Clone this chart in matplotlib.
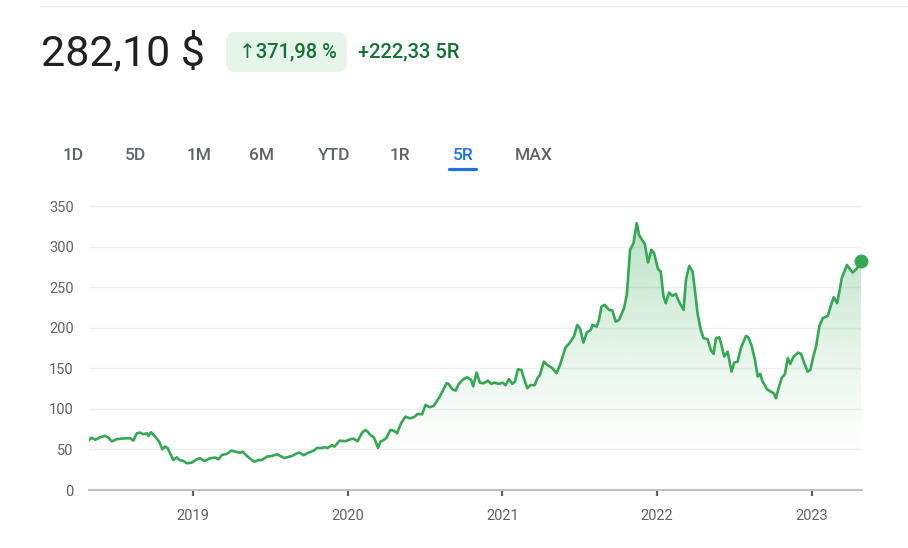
import numpy as np
import matplotlib
matplotlib.use('Agg')
import matplotlib.pyplot as plt
from matplotlib.patches import FancyBboxPatch

plt.rcParams['font.family'] = ['Roboto', 'DejaVu Sans']

# price history, x in decimal years, y in $
years = [
    2018.329, 2018.346, 2018.368, 2018.400, 2018.432, 2018.452, 2018.476, 2018.508,
    2018.540, 2018.594, 2018.616, 2018.638, 2018.659, 2018.680, 2018.702, 2018.713,
    2018.730, 2018.756, 2018.782, 2018.803, 2018.821, 2018.838, 2018.853, 2018.874,
    2018.896, 2018.913, 2018.939, 2018.961, 2018.994, 2019.026, 2019.047, 2019.075,
    2019.112, 2019.144, 2019.166, 2019.188, 2019.220, 2019.248, 2019.274, 2019.306,
    2019.321, 2019.350, 2019.382, 2019.399, 2019.425, 2019.447, 2019.479, 2019.511,
    2019.544, 2019.565, 2019.593, 2019.608, 2019.641, 2019.673, 2019.690, 2019.716,
    2019.748, 2019.781, 2019.803, 2019.835, 2019.856, 2019.871, 2019.900, 2019.915,
    2019.949, 2019.986, 2020.018, 2020.039, 2020.065, 2020.094, 2020.115, 2020.130,
    2020.148, 2020.169, 2020.182, 2020.197, 2020.212, 2020.234, 2020.251, 2020.277,
    2020.298, 2020.320, 2020.346, 2020.374, 2020.402, 2020.428, 2020.454, 2020.482,
    2020.504, 2020.531, 2020.557, 2020.596, 2020.618, 2020.640, 2020.654, 2020.676,
    2020.698, 2020.719, 2020.748, 2020.773, 2020.799, 2020.812, 2020.834, 2020.855,
    2020.881, 2020.907, 2020.929, 2020.950, 2020.978, 2021.004, 2021.021, 2021.043,
    2021.065, 2021.082, 2021.101, 2021.123, 2021.140, 2021.162, 2021.183, 2021.209,
    2021.227, 2021.243, 2021.269, 2021.291, 2021.324, 2021.351, 2021.373, 2021.410,
    2021.431, 2021.463, 2021.485, 2021.502, 2021.524, 2021.546, 2021.572, 2021.583,
    2021.610, 2021.625, 2021.641, 2021.662, 2021.690, 2021.712, 2021.733, 2021.755,
    2021.787, 2021.805, 2021.826, 2021.848, 2021.869, 2021.884, 2021.906, 2021.921,
    2021.942, 2021.964, 2021.981, 2022.007, 2022.024, 2022.042, 2022.057, 2022.078,
    2022.100, 2022.122, 2022.137, 2022.154, 2022.172, 2022.187, 2022.208, 2022.230,
    2022.245, 2022.262, 2022.283, 2022.301, 2022.327, 2022.348, 2022.366, 2022.381,
    2022.402, 2022.417, 2022.434, 2022.456, 2022.467, 2022.482, 2022.499, 2022.521,
    2022.542, 2022.575, 2022.590, 2022.612, 2022.633, 2022.651, 2022.667, 2022.683,
    2022.711, 2022.736, 2022.754, 2022.769, 2022.790, 2022.806, 2022.827, 2022.845,
    2022.861, 2022.883, 2022.913, 2022.931, 2022.952, 2022.974, 2022.991, 2023.013,
    2023.028, 2023.050, 2023.071, 2023.104, 2023.125, 2023.142, 2023.164, 2023.179,
    2023.194, 2023.211, 2023.228, 2023.250, 2023.265, 2023.293, 2023.319,
]
prices = [
    61.8, 64.7, 62.0, 65.0, 66.8, 65.0, 60.0, 62.7,
    63.5, 64.0, 61.0, 70.0, 70.9, 68.8, 70.0, 66.8,
    71.3, 66.0, 59.8, 50.3, 53.6, 51.5, 45.3, 37.0,
    40.4, 37.0, 35.8, 33.0, 33.8, 38.0, 39.2, 35.8,
    39.2, 40.0, 38.0, 43.3, 44.5, 48.6, 47.4, 46.0,
    47.4, 42.0, 37.0, 35.0, 37.0, 37.0, 41.2, 42.0,
    44.1, 42.0, 39.5, 40.4, 42.0, 45.3, 46.1, 42.9,
    46.1, 48.5, 51.9, 51.9, 52.7, 51.9, 55.2, 53.5,
    60.9, 60.2, 62.6, 63.4, 60.2, 70.8, 74.1, 72.0,
    67.9, 65.1, 59.7, 51.9, 59.7, 61.8, 64.2, 74.1,
    73.3, 70.0, 82.4, 90.5, 88.6, 89.8, 93.9, 93.5,
    105.0, 102.2, 103.8, 115.3, 123.5, 131.8, 130.9, 124.4,
    122.7, 130.9, 136.8, 139.2, 135.9, 128.0, 145.0, 132.5,
    131.8, 135.0, 131.0, 132.5, 131.0, 132.5, 129.3, 136.7,
    131.0, 133.8, 149.0, 148.2, 138.0, 125.6, 129.7, 129.3,
    138.0, 142.0, 158.5, 154.4, 150.3, 144.2, 154.4, 176.3,
    180.4, 189.4, 203.8, 199.7, 182.0, 194.3, 197.7, 203.8,
    201.7, 210.0, 226.4, 228.5, 222.4, 221.5, 207.9, 210.0,
    224.5, 240.9, 296.5, 304.7, 329.5, 315.0, 308.0, 303.9,
    280.8, 296.5, 292.4, 272.6, 269.7, 238.8, 230.6, 243.7,
    239.7, 242.1, 234.7, 228.5, 222.4, 259.4, 276.7, 269.7,
    247.0, 218.3, 197.7, 187.4, 186.2, 172.9, 168.0, 187.4,
    188.6, 179.1, 164.7, 170.8, 160.6, 146.1, 157.3, 158.5,
    175.0, 190.2, 188.6, 177.9, 160.6, 140.0, 143.3, 133.8,
    124.4, 121.4, 119.5, 113.3, 128.5, 138.0, 143.3, 162.7,
    155.7, 164.7, 169.6, 168.0, 156.5, 146.1, 148.2, 166.8,
    177.0, 202.6, 212.1, 215.0, 228.5, 238.0, 230.6, 245.0,
    261.5, 269.7, 277.9, 271.8, 268.4, 273.9, 282.1,
]

y_ticks = [0, 50, 100, 150, 200, 250, 300, 350]
x_ticks = [2019, 2020, 2021, 2022, 2023]
tabs = ['1D', '5D', '1M', '6M', 'YTD', '1R', '5R', 'MAX']
tab_x = [73, 135, 199, 262, 334, 400, 463, 534]

GREEN = '#34a853'
TEXT_GREEN = '#137333'
GREY = '#5f6368'
BLUE = '#1a73e8'

W, H = 908, 548
fig = plt.figure(figsize=(W / 100, H / 100), dpi=100)

# background axes in pixel coordinates for the header
bg = fig.add_axes([0, 0, 1, 1])
bg.set_xlim(0, W)
bg.set_ylim(H, 0)
bg.axis('off')

bg.plot([40, W], [6, 6], color='#e8eaed', lw=1)
bg.text(41, 53, '282,10 $', fontsize=31, color='#202124', va='center', ha='left')
bg.add_patch(FancyBboxPatch((226, 32), 121, 40, boxstyle='round,pad=0,rounding_size=9',
                            fc='#e6f4ea', ec='none'))
bg.text(239, 52, '\u2191371,98 %', fontsize=14.5, color=TEXT_GREEN, va='center',
        ha='left', fontweight='medium')
bg.text(358, 52, '+222,33 5R', fontsize=14.5, color=TEXT_GREEN, va='center',
        ha='left', fontweight='medium')

for lab, tx in zip(tabs, tab_x):
    col = BLUE if lab == '5R' else GREY
    bg.text(tx, 155, lab, fontsize=12.5, color=col, va='center', ha='center',
            fontweight='medium')
bg.plot([449, 476], [168.5, 168.5], color=BLUE, lw=2.3, solid_capstyle='round')

# chart
ax = fig.add_axes([89 / W, (H - 490) / H, (862 - 89) / W, 290 / H])
ax.set_facecolor('none')
ax.set_xlim(years[0], 2023.325)
ax.set_ylim(0, 358)

for s in ['top', 'right', 'left']:
    ax.spines[s].set_visible(False)
ax.spines['bottom'].set_color('#bdc1c6')
ax.spines['bottom'].set_linewidth(1.4)

ax.set_yticks(y_ticks)
ax.set_xticks(x_ticks)
ax.set_xticklabels([str(t) for t in x_ticks])
ax.tick_params(axis='y', length=0, pad=11, labelsize=10.5, labelcolor=GREY)
ax.tick_params(axis='x', length=4, width=1.6, color='#5f6368', pad=10,
               labelsize=10.5, labelcolor=GREY)
ax.grid(axis='y', color='#efefef', lw=1)
ax.set_axisbelow(True)

# gradient fill under the line
poly = ax.fill_between(years, prices, 0, color='none', lw=0)
vals = np.linspace(0, max(prices), 300)
alpha = 0.34 * np.clip((vals - 35) / (max(prices) - 35), 0, 1) ** 1.3
rgba = np.zeros((len(vals), 1, 4))
rgba[:, 0, :3] = matplotlib.colors.to_rgb(GREEN)
rgba[:, 0, 3] = alpha
img = ax.imshow(rgba, extent=[years[0], years[-1], 0, max(prices)], origin='lower',
                aspect='auto', zorder=1)
img.set_clip_path(poly.get_paths()[0], transform=ax.transData)

ax.plot(years, prices, color=GREEN, lw=1.9, zorder=3, solid_joinstyle='round')
ax.plot([years[-1]], [prices[-1]], 'o', color=GREEN, ms=9, zorder=4, clip_on=False)

fig.savefig('out.png', dpi=100)
